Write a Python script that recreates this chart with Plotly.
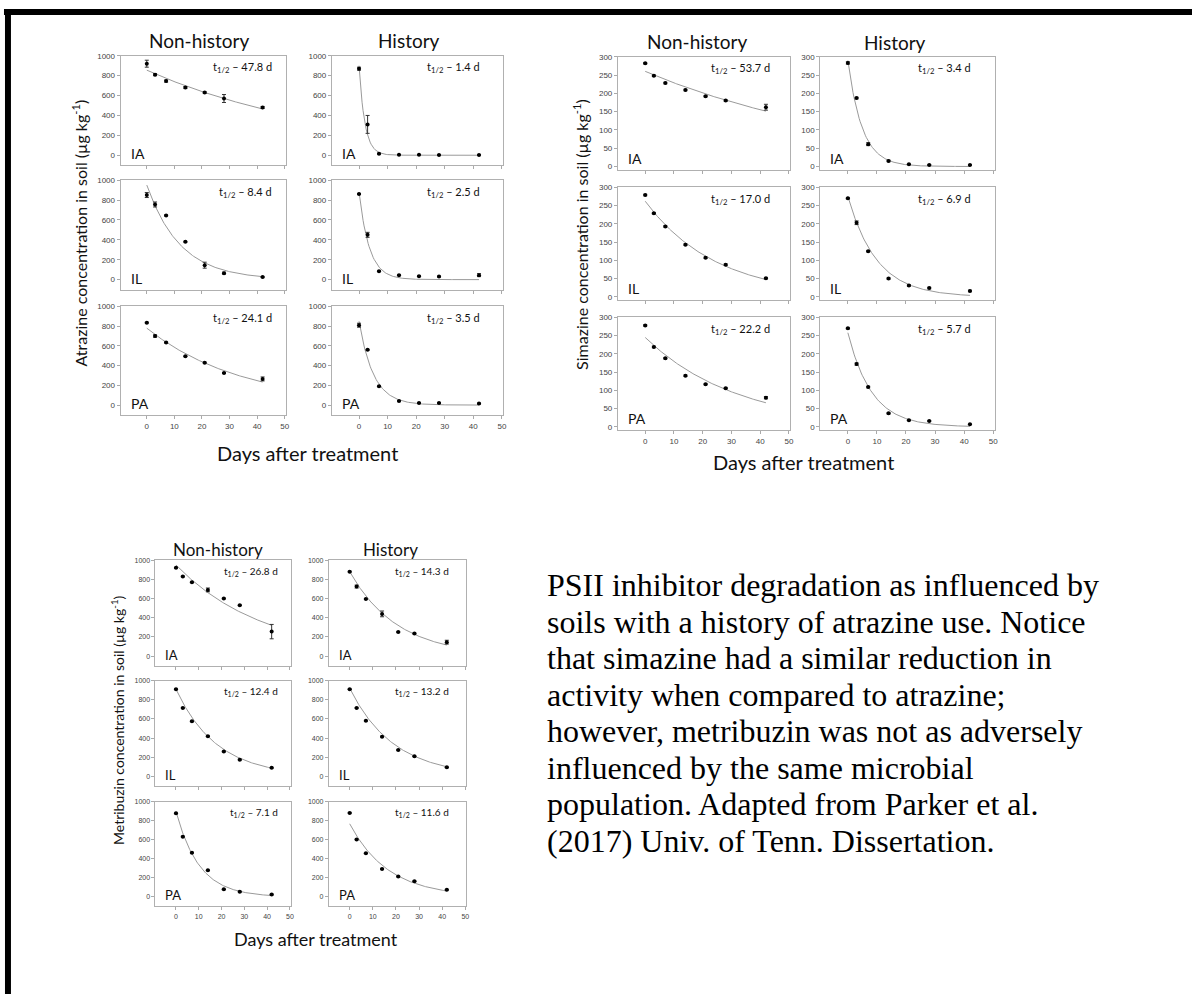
import numpy as np
import plotly.graph_objects as go

W, H = 1196, 995

DAYS = [0, 3, 7, 14, 21, 28, 42]
SITES = ["IA", "IL", "PA"]

# ---------------- Atrazine (µg kg-1) ----------------
atr_nh_ia = [920, 810, 745, 680, 630, 570, 480]
atr_nh_ia_err = [35, 10, 10, 10, 8, 40, 10]
atr_h_ia = [870, 310, 15, 5, 5, 3, 3]
atr_h_ia_err = [15, 90, 5, 0, 0, 0, 0]
atr_nh_il = [850, 755, 645, 380, 145, 65, 25]
atr_nh_il_err = [25, 25, 5, 5, 30, 10, 5]
atr_h_il = [860, 450, 85, 45, 35, 30, 45]
atr_h_il_err = [5, 25, 5, 5, 5, 5, 15]
atr_nh_pa = [835, 700, 635, 495, 430, 325, 265]
atr_nh_pa_err = [5, 12, 5, 5, 5, 5, 20]
atr_h_pa = [810, 560, 190, 40, 20, 20, 15]
atr_h_pa_err = [20, 5, 5, 5, 5, 5, 5]
atr_nh_c0 = [855, 950, 780]
atr_h_c0 = [900, 880, 850]
atr_nh_half = [47.8, 8.4, 24.1]
atr_h_half = [1.4, 2.5, 3.5]

# ---------------- Simazine (µg kg-1) ----------------
sim_nh_ia = [282, 248, 228, 209, 192, 180, 162]
sim_nh_ia_err = [2, 2, 2, 2, 2, 2, 8]
sim_h_ia = [283, 187, 61, 15, 6, 4, 4]
sim_h_ia_err = [3, 2, 4, 2, 1, 1, 1]
sim_nh_il = [279, 229, 193, 143, 107, 88, 51]
sim_nh_il_err = [2, 2, 2, 2, 2, 2, 2]
sim_h_il = [270, 203, 125, 50, 31, 24, 16]
sim_h_il_err = [2, 5, 2, 2, 2, 2, 2]
sim_nh_pa = [278, 219, 188, 140, 117, 106, 80]
sim_nh_pa_err = [2, 2, 2, 2, 2, 2, 3]
sim_h_pa = [270, 172, 109, 37, 18, 16, 7]
sim_h_pa_err = [2, 3, 2, 2, 1, 1, 1]
sim_nh_c0 = [260, 262, 245]
sim_h_c0 = [290, 275, 258]
sim_nh_half = [53.7, 17.0, 22.2]
sim_h_half = [3.4, 6.9, 5.7]

# ---------------- Metribuzin (µg kg-1) ----------------
met_nh_ia = [920, 830, 770, 690, 600, 530, 255]
met_nh_ia_err = [5, 5, 5, 20, 5, 5, 75]
met_h_ia = [880, 725, 595, 440, 250, 235, 145]
met_h_ia_err = [5, 15, 5, 30, 5, 5, 20]
met_nh_il = [910, 715, 575, 420, 260, 175, 90]
met_nh_il_err = [5, 5, 5, 5, 5, 5, 5]
met_h_il = [910, 715, 580, 415, 275, 210, 95]
met_h_il_err = [5, 5, 5, 5, 5, 5, 5]
met_nh_pa = [880, 635, 465, 280, 80, 55, 25]
met_nh_pa_err = [5, 5, 5, 5, 5, 5, 5]
met_h_pa = [885, 605, 460, 295, 215, 165, 75]
met_h_pa_err = [5, 5, 5, 5, 5, 5, 5]
met_nh_c0 = [950, 910, 900]
met_h_c0 = [880, 920, 770]
met_nh_half = [26.8, 12.4, 7.1]
met_h_half = [14.3, 13.2, 11.6]

TEXT_LINES = [
    "PSII inhibitor degradation as influenced by",
    "soils with a history of atrazine use. Notice",
    "that simazine had a similar reduction in",
    "activity when compared to atrazine;",
    "however, metribuzin was not as adversely",
    "influenced by the same microbial",
    "population. Adapted from Parker et al.",
    "(2017) Univ. of Tenn. Dissertation.",
]


def fx(x):
    return x / W


def fy(y):
    return 1 - y / H


groups = [
    dict(name="Atrazine",
         cols=[(121, 287), (333, 505)],
         rows=[(52, 162), (177, 287), (304, 413)],
         yrange=[-100, 1000], yticks=[0, 200, 400, 600, 800, 1000],
         xrange=[-9.5, 50.5], tickfs=8, labfs=14, tfs=11,
         data=[[(atr_nh_ia, atr_nh_ia_err), (atr_h_ia, atr_h_ia_err)],
               [(atr_nh_il, atr_nh_il_err), (atr_h_il, atr_h_il_err)],
               [(atr_nh_pa, atr_nh_pa_err), (atr_h_pa, atr_h_pa_err)]],
         c0=[atr_nh_c0, atr_h_c0], half=[atr_nh_half, atr_h_half],
         trx=[275, 484], tro=12,
         titles=[(200, 37), (410, 37)], title_fs=19,
         xlab=(309, 451), xlab_fs=20,
         ylab=(80, 230), ylab_fs=16),
    dict(name="Simazine",
         cols=[(620, 793), (823, 998)],
         rows=[(53, 166.6), (184.3, 297.6), (315, 428.3)],
         yrange=[-9, 300], yticks=[0, 50, 100, 150, 200, 250, 300],
         xrange=[-9.5, 50.5], tickfs=8, labfs=14, tfs=11,
         data=[[(sim_nh_ia, sim_nh_ia_err), (sim_h_ia, sim_h_ia_err)],
               [(sim_nh_il, sim_nh_il_err), (sim_h_il, sim_h_il_err)],
               [(sim_nh_pa, sim_nh_pa_err), (sim_h_pa, sim_h_pa_err)]],
         c0=[sim_nh_c0, sim_h_c0], half=[sim_nh_half, sim_h_half],
         trx=[775, 976], tro=12,
         titles=[(699, 38), (898, 39)], title_fs=19,
         xlab=(806, 460), xlab_fs=20,
         ylab=(583, 232), ylab_fs=16),
    dict(name="Metribuzin",
         cols=[(156, 292), (330, 468)],
         rows=[(559, 665), (680, 786), (802, 907)],
         yrange=[-100, 1000], yticks=[0, 200, 400, 600, 800, 1000],
         xrange=[-9, 50.5], tickfs=7, labfs=13, tfs=10,
         data=[[(met_nh_ia, met_nh_ia_err), (met_h_ia, met_h_ia_err)],
               [(met_nh_il, met_nh_il_err), (met_h_il, met_h_il_err)],
               [(met_nh_pa, met_nh_pa_err), (met_h_pa, met_h_pa_err)]],
         c0=[met_nh_c0, met_h_c0], half=[met_nh_half, met_h_half],
         trx=[281, 453], tro=11,
         titles=[(219, 548), (392, 548)], title_fs=17,
         xlab=(317, 940), xlab_fs=18,
         ylab=(118, 720), ylab_fs=14),
]

fig = go.Figure()
layout = {}
annotations = []
FONT = "Lato"
TFONT = "Liberation Sans"

n = 0
for g in groups:
    for r, (rt, rb) in enumerate(g["rows"]):
        for c, (cl, cr) in enumerate(g["cols"]):
            n += 1
            xa = "x" if n == 1 else f"x{n}"
            ya = "y" if n == 1 else f"y{n}"
            vals, errs = g["data"][r][c]
            c0 = g["c0"][c][r]
            th = g["half"][c][r]
            tt = np.linspace(0, 42, 120)
            fig.add_trace(go.Scatter(
                x=tt, y=c0 * 0.5 ** (tt / th), mode="lines",
                line=dict(color="#9a9a9a", width=1), xaxis=xa, yaxis=ya,
                showlegend=False, hoverinfo="skip"))
            fig.add_trace(go.Scatter(
                x=DAYS, y=vals, mode="markers",
                marker=dict(color="black", size=4),
                error_y=dict(type="data", array=errs, color="#333",
                             thickness=1, width=2),
                xaxis=xa, yaxis=ya, showlegend=False))
            bottom = (r == 2)
            layout["xaxis" if n == 1 else f"xaxis{n}"] = dict(
                domain=[fx(cl), fx(cr)], anchor=ya, range=g["xrange"],
                tickvals=[0, 10, 20, 30, 40, 50], showticklabels=bottom,
                ticks="outside", ticklen=3, tickcolor="#aaa",
                showline=True, mirror=True, linecolor="#b0b0b0",
                linewidth=1, showgrid=False, zeroline=False,
                tickfont=dict(family=TFONT, size=g["tickfs"], color="#444"))
            layout["yaxis" if n == 1 else f"yaxis{n}"] = dict(
                domain=[fy(rb), fy(rt)], anchor=xa, range=g["yrange"],
                tickvals=g["yticks"], ticks="outside", ticklen=3,
                tickcolor="#aaa", showline=True, mirror=True,
                linecolor="#b0b0b0", linewidth=1, showgrid=False,
                zeroline=False,
                tickfont=dict(family=TFONT, size=g["tickfs"], color="#444"))
            annotations.append(dict(
                xref="paper", yref="paper", x=fx(g["trx"][c]),
                y=fy(rt + g["tro"]), xanchor="right", yanchor="middle",
                showarrow=False,
                text=f"t<sub>1/2</sub> – {th:.1f} d",
                font=dict(family=FONT, size=g["tfs"], color="#111")))
            annotations.append(dict(
                xref="paper", yref="paper", x=fx(cl + 8), y=fy(rb - 1),
                xanchor="left", yanchor="bottom", showarrow=False,
                text=SITES[r],
                font=dict(family=FONT, size=g["labfs"], color="#111")))
    for (tx, ty), t in zip(g["titles"], ["Non-history", "History"]):
        annotations.append(dict(
            xref="paper", yref="paper", x=fx(tx), y=fy(ty),
            xanchor="center", yanchor="middle", showarrow=False, text=t,
            font=dict(family=FONT, size=g["title_fs"], color="#111")))
    annotations.append(dict(
        xref="paper", yref="paper", x=fx(g["xlab"][0]), y=fy(g["xlab"][1]),
        xanchor="center", yanchor="middle", showarrow=False,
        text="Days after treatment",
        font=dict(family=FONT, size=g["xlab_fs"], color="#111")))
    annotations.append(dict(
        xref="paper", yref="paper", x=fx(g["ylab"][0]), y=fy(g["ylab"][1]),
        xanchor="center", yanchor="middle", showarrow=False, textangle=-90,
        text=f"{g['name']} concentration in soil (µg kg<sup>-1</sup>)",
        font=dict(family=FONT, size=g["ylab_fs"], color="#111")))

for i, line in enumerate(TEXT_LINES):
    annotations.append(dict(
        xref="paper", yref="paper", x=fx(547), y=fy(584 + i * 36.7),
        xanchor="left", yanchor="middle", align="left", showarrow=False,
        text=line,
        font=dict(family="Liberation Serif", size=32, color="black")))

shapes = [
    dict(type="rect", xref="paper", yref="paper", x0=fx(4), x1=1,
         y0=fy(11), y1=fy(5), fillcolor="black", line=dict(width=0)),
    dict(type="rect", xref="paper", yref="paper", x0=fx(5), x1=fx(11),
         y0=0, y1=fy(5), fillcolor="black", line=dict(width=0)),
]

fig.update_layout(
    width=W, height=H, autosize=False,
    margin=dict(l=0, r=0, t=0, b=0),
    paper_bgcolor="white", plot_bgcolor="white",
    annotations=annotations, shapes=shapes, **layout)

post = ("document.body.style.margin='0';"
        "document.body.style.overflow='hidden';"
        "var d=document.getElementById('{plot_id}');"
        "d.style.position='fixed';d.style.left='0px';d.style.top='0px';")
fig.write_html("out.html", post_script=post,
               config={"displayModeBar": False})
